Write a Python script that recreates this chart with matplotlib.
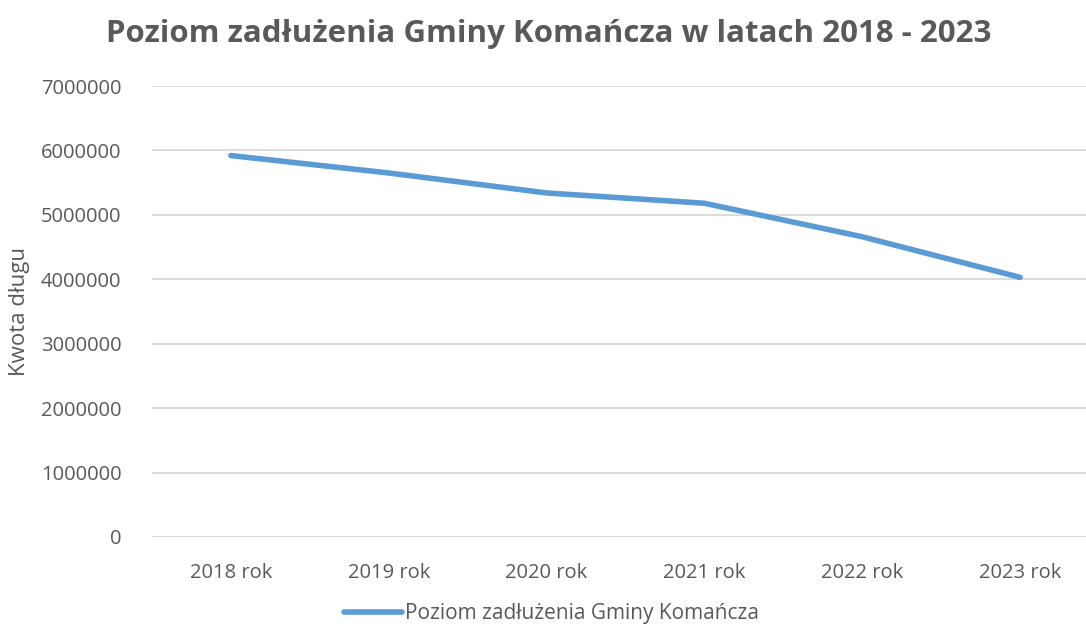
import matplotlib.pyplot as plt
from matplotlib.ticker import MultipleLocator, FuncFormatter

lata = ['2018 rok', '2019 rok', '2020 rok', '2021 rok', '2022 rok', '2023 rok']
dlug = [5920000, 5650000, 5340000, 5180000, 4660000, 4030000]

plt.rcParams['font.family'] = ['Open Sans', 'DejaVu Sans']
szary = '#595959'

fig = plt.figure(figsize=(10.86, 6.30), dpi=100)
ax = fig.add_axes([152 / 1086, 93 / 630, 947 / 1086, 451 / 630])

ax.plot(range(len(lata)), dlug, color='#5b9bd5', linewidth=4,
        solid_capstyle='round', label='Poziom zadłużenia Gminy Komańcza')

ax.set_xlim(-0.5, len(lata) - 0.5)
ax.set_ylim(0, 7000000)
ax.yaxis.set_major_locator(MultipleLocator(1000000))
ax.yaxis.set_major_formatter(FuncFormatter(lambda v, p: f'{int(v)}'))
ax.set_xticks(range(len(lata)))
ax.set_xticklabels(lata)
ax.grid(axis='y', color='#d9d9d9', linewidth=1.3)
ax.set_axisbelow(True)
for s in ax.spines.values():
    s.set_visible(False)
ax.tick_params(axis='both', length=0, colors=szary, labelsize=14.5)
ax.tick_params(axis='y', pad=22)
ax.tick_params(axis='x', pad=19)

ax.set_ylabel('Kwota długu', fontsize=16, color=szary, labelpad=8)
fig.text(0.505, 0.946, 'Poziom zadłużenia Gminy Komańcza w latach 2018 - 2023',
         ha='center', va='center', fontsize=22.5, fontweight='bold', color=szary)

# legenda na dole, cała w obrazku
fig.legend(loc='lower center', bbox_to_anchor=(0.508, -0.021), frameon=False,
           fontsize=15, labelcolor=szary, handlelength=2.8, handletextpad=0.15)

fig.savefig('out.png', dpi=100)
